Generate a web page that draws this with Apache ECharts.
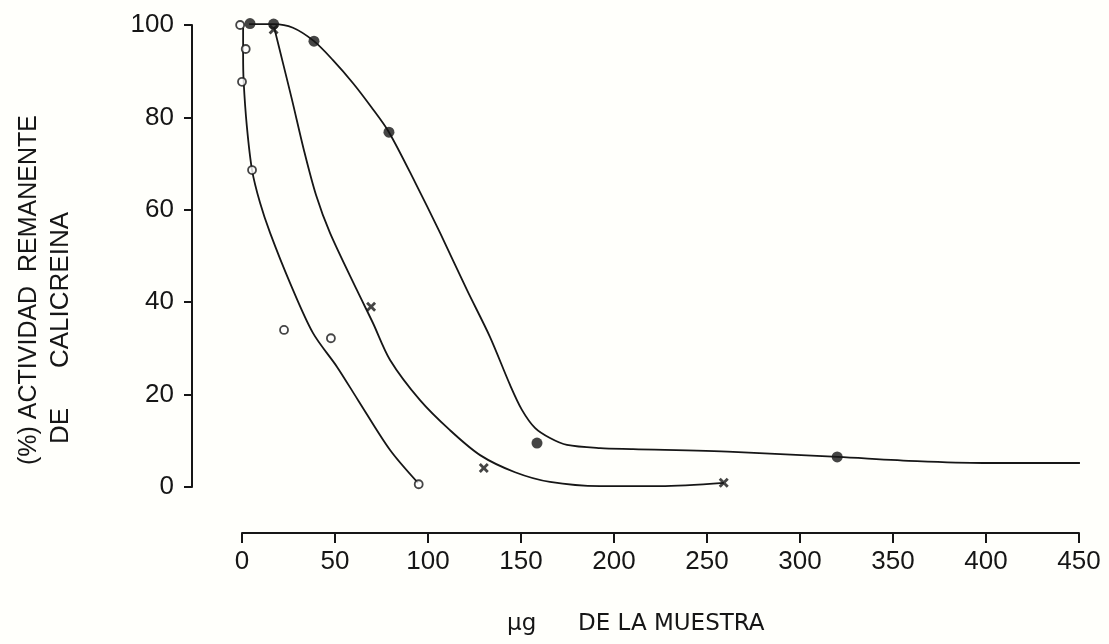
<!DOCTYPE html>
<html>
<head>
<meta charset="utf-8">
<script src="https://cdn.jsdelivr.net/npm/echarts@6/dist/echarts.min.js"></script>
<style>
html,body{margin:0;padding:0;background:#fffffb;}
#chart{width:1109px;height:644px;}
</style>
</head>
<body>
<div id="chart"></div>
<script>
// Tick values
const xTicks = { min: 0, max: 450, interval: 50 };
const yTicks = { min: 0, max: 100, interval: 20 };

// Measured points (µg, % activity)
const openPoints   = [[-1, 100], [2, 94.8], [0, 87.7], [5.4, 68.6], [22.6, 34], [47.8, 32.2], [95, 0.6]];
const crossPoints  = [[17, 99], [69.4, 39], [130, 4.1], [259, 0.9]];
const filledPoints = [[4.3, 100.3], [17, 100.2], [38.7, 96.5], [79, 76.8], [158.6, 9.5], [320, 6.5]];

// Hand-drawn fitted curves
const openCurve = [[0.6, 99.4], [0.6, 93.5], [0.9, 87.7], [2.6, 78.1], [5.4, 68.6], [9.7, 61.5],
  [15.1, 55.0], [25.8, 44.2], [38.2, 33.3], [51.1, 26.0], [62.4, 18.8], [79.6, 8.0], [94.6, 0.9]];
const crossCurve = [[17.2, 99.6], [22.0, 91.8], [26.9, 83.8], [33.3, 72.9], [39.8, 63.2], [47.3, 55.0],
  [61.8, 42.6], [70.4, 35.5], [79.6, 27.5], [95.7, 18.8], [111.8, 12.3], [128.0, 6.9], [146.8, 3.2],
  [165.6, 1.1], [192.5, 0.2], [224.7, 0.2], [259.1, 0.9]];
const filledCurve = [[3.8, 100.2], [17.2, 100.2], [27.4, 99.4], [38.7, 96.5], [48.9, 92.4], [59.7, 87.4],
  [69.4, 82.3], [79.0, 76.8], [93.0, 66.0], [106.5, 55.0], [121.0, 42.6], [133.3, 32.5], [144.1, 22.1],
  [150.5, 16.7], [157.5, 12.8], [165.6, 10.6], [174.7, 9.1], [192.5, 8.4], [210.2, 8.2], [264.0, 7.6],
  [320.4, 6.5], [362.9, 5.6], [398.4, 5.2], [450.5, 5.2]];

const ink = '#161616';
const tickFont = '"Liberation Sans", Arial, sans-serif';
const crossPath = 'path://M2,0 L5,3 L8,0 L10,2 L7,5 L10,8 L8,10 L5,7 L2,10 L0,8 L3,5 L0,2 Z';

const chart = echarts.init(document.getElementById('chart'), null, { renderer: 'canvas' });

function curve(data) {
  return {
    type: 'line', data: data, smooth: 0.3, showSymbol: false, symbol: 'none',
    clip: false, lineStyle: { color: ink, width: 1.8 }, z: 2, silent: true
  };
}

chart.setOption({
  backgroundColor: '#fffffb',
  animation: false,
  grid: { left: 242, right: 30, top: 25, bottom: 157 },
  xAxis: {
    type: 'value', min: xTicks.min, max: xTicks.max, interval: xTicks.interval,
    offset: 46,
    axisLine: { show: true, onZero: false, lineStyle: { color: ink, width: 2 } },
    axisTick: { show: true, length: 10, lineStyle: { color: ink, width: 2 } },
    axisLabel: { color: ink, fontSize: 26, fontFamily: tickFont, margin: 16 },
    splitLine: { show: false }
  },
  yAxis: {
    type: 'value', min: yTicks.min, max: yTicks.max, interval: yTicks.interval,
    offset: 50,
    axisLine: { show: true, onZero: false, lineStyle: { color: ink, width: 2 } },
    axisTick: { show: true, length: 8, lineStyle: { color: ink, width: 2 } },
    axisLabel: { color: ink, fontSize: 26, fontFamily: tickFont, margin: 18 },
    splitLine: { show: false }
  },
  series: [
    curve(openCurve),
    curve(crossCurve),
    curve(filledCurve),
    { type: 'scatter', data: openPoints, symbol: 'circle', symbolSize: 8, clip: false, z: 5,
      itemStyle: { color: '#ffffff', borderColor: ink, borderWidth: 1.8 } },
    { type: 'scatter', data: crossPoints, symbol: crossPath, symbolSize: 10, clip: false, z: 5,
      itemStyle: { color: ink } },
    { type: 'scatter', data: filledPoints, symbol: 'circle', symbolSize: 11, clip: false, z: 5,
      itemStyle: { color: ink } }
  ],
  graphic: [
    { type: 'text', x: 29, y: 290, rotation: Math.PI / 2,
      style: { text: '(%) ACTIVIDAD  REMANENTE', fill: ink, font: '25px "Liberation Sans", Arial, sans-serif',
        textAlign: 'center', textVerticalAlign: 'middle' } },
    { type: 'text', x: 61, y: 290, rotation: Math.PI / 2,
      style: { text: 'CALICREINA', fill: ink, font: '26px "Liberation Sans", Arial, sans-serif',
        textAlign: 'center', textVerticalAlign: 'middle' } },
    { type: 'text', x: 61, y: 426, rotation: Math.PI / 2,
      style: { text: 'DE', fill: ink, font: '26px "Liberation Sans", Arial, sans-serif',
        textAlign: 'center', textVerticalAlign: 'middle' } },
    { type: 'text', x: 507, y: 624,
      style: { text: 'µg', fill: ink, font: '23px "DejaVu Sans", sans-serif',
        textAlign: 'left', textVerticalAlign: 'middle' } },
    { type: 'text', x: 578, y: 624,
      style: { text: 'DE LA MUESTRA', fill: ink, font: '23px "DejaVu Sans", sans-serif',
        textAlign: 'left', textVerticalAlign: 'middle' } }
  ]
});
</script>
</body>
</html>
